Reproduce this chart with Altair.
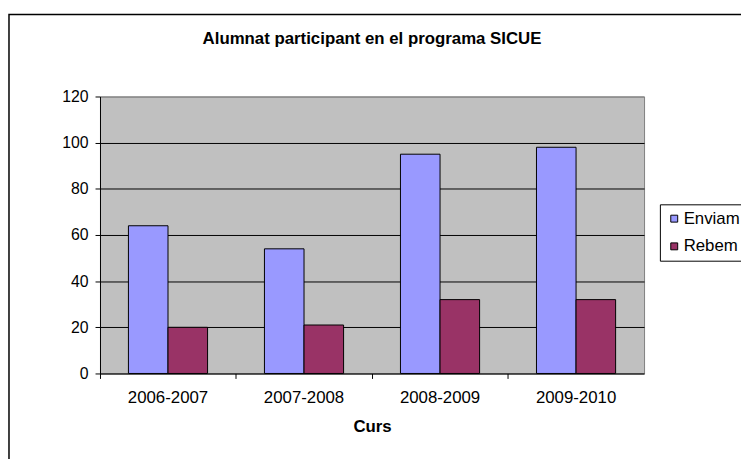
import altair as alt
import pandas as pd

cursos = ["2006-2007", "2007-2008", "2008-2009", "2009-2010"]
enviam = [64, 54, 95, 98]
rebem = [20, 21, 32, 32]
series = ["Enviam", "Rebem"]
colors = ["#9999FF", "#993366"]

rows = []
for c, e, r in zip(cursos, enviam, rebem):
    rows.append({"Curs": c, "Serie": "Enviam", "Valor": e})
    rows.append({"Curs": c, "Serie": "Rebem", "Valor": r})
df = pd.DataFrame(rows)

FONT = "Arial, Liberation Sans, sans-serif"

bars = alt.Chart(df).mark_bar(stroke="black", strokeWidth=1).encode(
    x=alt.X("Curs:N", sort=cursos,
            scale=alt.Scale(paddingInner=0, paddingOuter=0),
            axis=alt.Axis(title="Curs", labelAngle=0, bandPosition=0,
                          tickSize=5, labelPadding=11, titlePadding=14,
                          domainColor="black", tickColor="black",
                          labelFontSize=17, titleFontSize=17, titleFontWeight="bold",
                          labelFont=FONT, titleFont=FONT, labelColor="black", titleColor="black",
                          grid=False)),
    xOffset=alt.XOffset("Serie:N", sort=series,
                        scale=alt.Scale(paddingInner=0, paddingOuter=0.71875)),
    y=alt.Y("Valor:Q", scale=alt.Scale(domain=[0, 120]),
            axis=alt.Axis(title=None, values=[0, 20, 40, 60, 80, 100, 120],
                          tickSize=5, labelPadding=7, domainColor="black", tickColor="black",
                          labelFontSize=16, labelFont=FONT, labelColor="black",
                          grid=True,
                          gridColor=alt.condition("datum.value == 120 || datum.value == 0",
                                                  alt.value("#808080"), alt.value("black")),
                          gridWidth=1)),
    color=alt.Color("Serie:N", sort=series,
                    scale=alt.Scale(domain=series, range=colors),
                    legend=alt.Legend(title=None, orient="none", legendX=566, legendY=109,
                                      symbolType="square", symbolSize=49,
                                      symbolStrokeColor="black", symbolStrokeWidth=1,
                                      labelFontSize=17, labelFont=FONT, labelColor="black",
                                      labelOffset=1, rowPadding=10, padding=6,
                                      strokeColor="black", fillColor="white")),
)

frame = alt.Chart(pd.DataFrame({"a": [0]})).mark_rect(
    fill=None, stroke="black", strokeWidth=1.5
).encode(
    x=alt.value(-92), x2=alt.value(700), y=alt.value(-83), y2=alt.value(400)
)

chart = alt.layer(frame, bars).properties(
    width=550, height=280,
    title=alt.TitleParams("Alumnat participant en el programa SICUE",
                          fontSize=17, fontWeight="bold", font=FONT, color="black",
                          anchor="middle", offset=10, dy=45),
    autosize=alt.AutoSizeParams(type="none"),
    padding={"left": 93, "top": 87, "right": 98, "bottom": 84},
    background="white",
).configure_view(
    fill="#C0C0C0", stroke="#808080", strokeWidth=1
)

chart.save("out.html", embed_options={"renderer": "svg", "actions": False})
